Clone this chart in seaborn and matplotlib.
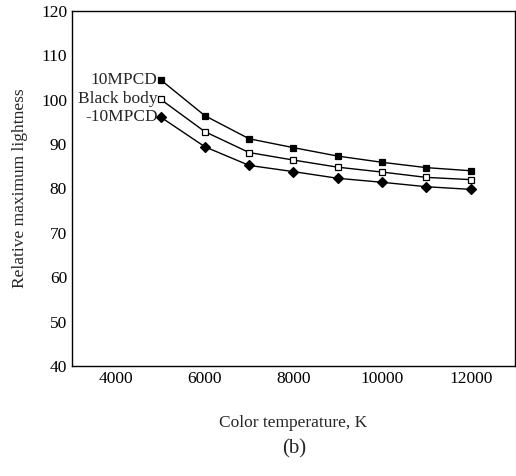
import matplotlib
matplotlib.use('Agg')
import matplotlib.pyplot as plt
import seaborn as sns
import pandas as pd

temps = [5000, 6000, 7000, 8000, 9000, 10000, 11000, 12000]
plus10 = [104.5, 96.4, 91.2, 89.2, 87.3, 85.9, 84.7, 84.0]
black_body = [100.1, 92.8, 88.1, 86.4, 84.8, 83.7, 82.5, 82.0]
minus10 = [96.1, 89.4, 85.2, 83.8, 82.3, 81.4, 80.4, 79.8]
labels = ['10MPCD', 'Black body', '-10MPCD']

sns.set_style('white')
plt.rcParams['font.family'] = ['Liberation Serif', 'DejaVu Serif']
plt.rcParams['xtick.direction'] = 'in'
plt.rcParams['ytick.direction'] = 'in'

fig = plt.figure(figsize=(5.16, 4.76), dpi=100)
ax = fig.add_axes([0.1395, 0.231, 0.8585, 0.746])

series = [(plus10, 's', 'black'), (black_body, 's', 'white'), (minus10, 'D', 'black')]
for (vals, mk, fc), lab in zip(series, labels):
    df = pd.DataFrame({'temp': temps, 'val': vals})
    sns.lineplot(data=df, x='temp', y='val', ax=ax, color='black', lw=1.0,
                 marker=mk, markersize=5 if mk == 's' else 4.8, markerfacecolor=fc,
                 markeredgecolor='black', markeredgewidth=0.9)
    ax.annotate(lab, (temps[0], vals[0]), xytext=(-2, 0), textcoords='offset points',
                ha='right', va='center', fontsize=12.5)

ax.set_xlim(3000, 13000)
ax.set_ylim(40, 120)
ax.set_xticks([4000, 6000, 8000, 10000, 12000])
ax.set_yticks(range(40, 121, 10))
ax.tick_params(labelsize=12.5, length=3, width=0.8, colors='black')
for s in ax.spines.values():
    s.set_color('black')
    s.set_linewidth(1.0)
ax.set_xlabel('Color temperature, K', fontsize=12.5, labelpad=20)
ax.set_ylabel('Relative maximum lightness', fontsize=12.5, labelpad=9)
fig.text(0.5 + 0.07, 0.058, '(b)', ha='center', va='center', fontsize=15)

fig.savefig('out.png', dpi=100)
